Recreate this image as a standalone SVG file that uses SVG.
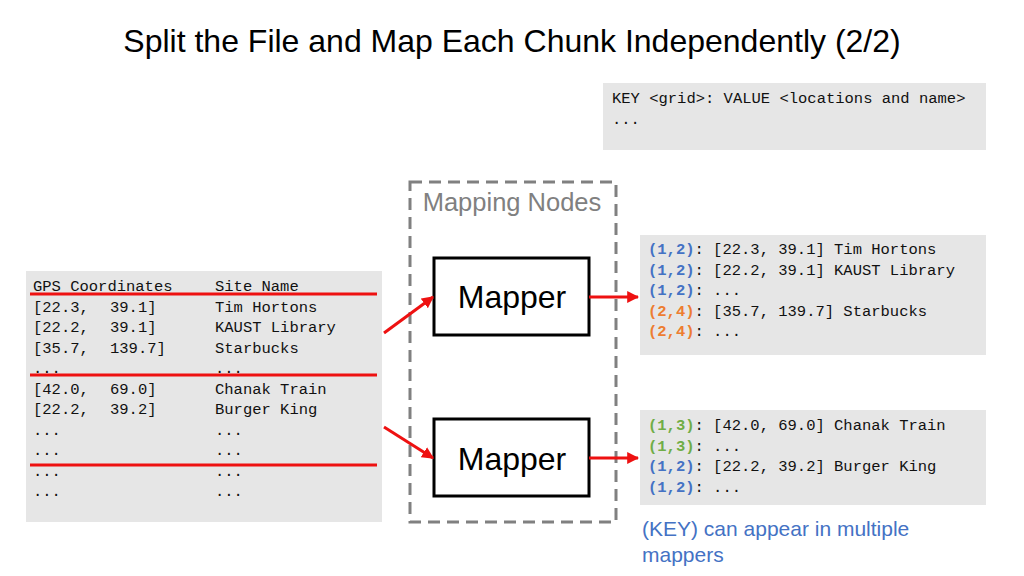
<svg xmlns="http://www.w3.org/2000/svg" width="1024" height="576" viewBox="0 0 1024 576">
<defs>
<style>
.mono{font-family:"Liberation Mono","DejaVu Sans Mono",monospace;font-size:15.5px;fill:#111}
.panel{fill:#e6e6e6}
.b{font-weight:bold;fill:#4472C4}
.o{font-weight:bold;fill:#ED7D31}
.g{font-weight:bold;fill:#70AD47}
.sans{font-family:"Liberation Sans",Arial,sans-serif}
.red{stroke:#EE1111;stroke-width:3;fill:none}
.mapper{fill:#fff;stroke:#000;stroke-width:3}
</style>
<marker id="ah" viewBox="0 0 10 10" refX="9" refY="5" markerWidth="4" markerHeight="4" orient="auto" markerUnits="strokeWidth">
<path d="M0,0 L10,5 L0,10 z" fill="#EE1111"/>
</marker>
</defs>
<rect width="1024" height="576" fill="#fff"/>
<text x="512" y="52" text-anchor="middle" class="sans" font-size="32" fill="#000">Split the File and Map Each Chunk Independently (2/2)</text>

<g id="format">
<rect x="603" y="83" width="383" height="67" class="panel"/>
<text class="mono" x="612" y="103">KEY &lt;grid&gt;: VALUE &lt;locations and name&gt;</text>
<text class="mono" x="612" y="124">...</text>
</g>

<g id="input">
<rect x="26" y="271" width="356" height="251" class="panel"/>
<g class="mono">
<text x="33" y="291">GPS Coordinates</text><text x="215" y="291">Site Name</text>
<text x="33" y="311.5">[22.3,</text><text x="110" y="311.5">39.1]</text><text x="215" y="311.5">Tim Hortons</text>
<text x="33" y="332">[22.2,</text><text x="110" y="332">39.1]</text><text x="215" y="332">KAUST Library</text>
<text x="33" y="352.5">[35.7,</text><text x="110" y="352.5">139.7]</text><text x="215" y="352.5">Starbucks</text>
<text x="33" y="373">...</text><text x="215" y="373">...</text>
<text x="33" y="393.5">[42.0,</text><text x="110" y="393.5">69.0]</text><text x="215" y="393.5">Chanak Train</text>
<text x="33" y="414">[22.2,</text><text x="110" y="414">39.2]</text><text x="215" y="414">Burger King</text>
<text x="33" y="434.5">...</text><text x="215" y="434.5">...</text>
<text x="33" y="455">...</text><text x="215" y="455">...</text>
<text x="33" y="475.5">...</text><text x="215" y="475.5">...</text>
<text x="33" y="496">...</text><text x="215" y="496">...</text>
</g>
<line x1="30" y1="294" x2="377" y2="294" class="red"/>
<line x1="30" y1="375" x2="377" y2="375" class="red"/>
<line x1="30" y1="465" x2="377" y2="465" class="red"/>
</g>

<g id="mapping-nodes">
<rect x="410" y="182" width="206" height="340" fill="none" stroke="#808080" stroke-width="3" stroke-dasharray="12,7"/>
<text x="512" y="211" text-anchor="middle" class="sans" font-size="25.5" fill="#808080">Mapping Nodes</text>
</g>

<g id="mapper1">
<rect x="434" y="258" width="155" height="77" class="mapper"/>
<text x="512" y="308" text-anchor="middle" class="sans" font-size="32" fill="#000">Mapper</text>
</g>
<g id="mapper2">
<rect x="434" y="419" width="155" height="77" class="mapper"/>
<text x="512" y="470" text-anchor="middle" class="sans" font-size="32" fill="#000">Mapper</text>
</g>

<g id="out1">
<rect x="640" y="235" width="346" height="120" class="panel"/>
<g class="mono">
<text x="648" y="254"><tspan class="b">(1,2)</tspan>: [22.3, 39.1] Tim Hortons</text>
<text x="648" y="274.5"><tspan class="b">(1,2)</tspan>: [22.2, 39.1] KAUST Library</text>
<text x="648" y="295"><tspan class="b">(1,2)</tspan>: ...</text>
<text x="648" y="315.5"><tspan class="o">(2,4)</tspan>: [35.7, 139.7] Starbucks</text>
<text x="648" y="336"><tspan class="o">(2,4)</tspan>: ...</text>
</g>
</g>

<g id="out2">
<rect x="640" y="410" width="346" height="95" class="panel"/>
<g class="mono">
<text x="648" y="430"><tspan class="g">(1,3)</tspan>: [42.0, 69.0] Chanak Train</text>
<text x="648" y="450.5"><tspan class="g">(1,3)</tspan>: ...</text>
<text x="648" y="471"><tspan class="b">(1,2)</tspan>: [22.2, 39.2] Burger King</text>
<text x="648" y="491.5"><tspan class="b">(1,2)</tspan>: ...</text>
</g>
</g>

<g id="note">
<text x="642" y="536" class="sans" font-size="21" fill="#4472C4">(KEY) can appear in multiple</text>
<text x="642" y="562" class="sans" font-size="21" fill="#4472C4">mappers</text>
</g>

<g id="connectors">
<line x1="384" y1="333" x2="433" y2="297" class="red" marker-end="url(#ah)"/>
<line x1="384" y1="427" x2="433" y2="458" class="red" marker-end="url(#ah)"/>
<line x1="589" y1="297" x2="638" y2="297" class="red" marker-end="url(#ah)"/>
<line x1="589" y1="458" x2="638" y2="458" class="red" marker-end="url(#ah)"/>
</g>
</svg>
